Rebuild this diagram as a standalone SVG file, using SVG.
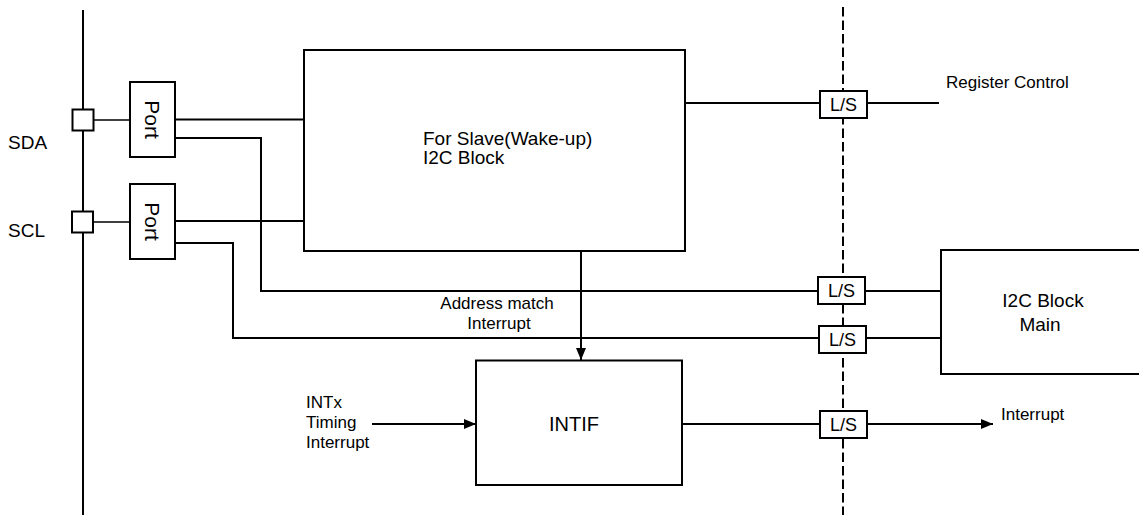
<svg xmlns="http://www.w3.org/2000/svg" width="1139" height="515" viewBox="0 0 1139 515">
<style>
.ln{fill:none;stroke:#000;stroke-width:2}
.thin{fill:none;stroke:#000;stroke-width:1.5}
.box{fill:#fff;stroke:#000;stroke-width:2}
.t{font-family:"Liberation Sans",Arial,sans-serif;fill:#000}
.s17{font-size:17px}
.s19{font-size:19px}
.s18{font-size:18px}
.mid{text-anchor:middle}
</style>
<defs>
<marker id="arr" markerUnits="userSpaceOnUse" markerWidth="12" markerHeight="10" refX="12" refY="5" orient="auto">
<path d="M0,0 L12,5 L0,10 z" fill="#000"/>
</marker>
</defs>
<rect width="1139" height="515" fill="#fff"/>

<g id="bus">
<line class="ln" x1="83" y1="10" x2="83" y2="515"/>
<line class="ln" x1="843" y1="7" x2="843" y2="515" stroke-dasharray="9.5 4"/>
</g>

<g id="connectors">
<line class="thin" x1="93" y1="120" x2="130" y2="120"/>
<line class="thin" x1="93" y1="222" x2="130" y2="222"/>
<line class="ln" x1="175" y1="119.5" x2="304" y2="119.5"/>
<line class="ln" x1="175" y1="221" x2="304" y2="221"/>
<polyline class="ln" points="175,138 261,138 261,291 941,291"/>
<polyline class="ln" points="175,243 233,243 233,338 941,338"/>
<line class="ln" x1="685" y1="103" x2="939" y2="103"/>
<line class="ln" x1="581" y1="251" x2="581" y2="360" marker-end="url(#arr)"/>
<line class="ln" x1="372" y1="424" x2="476" y2="424" marker-end="url(#arr)"/>
<line class="ln" x1="682" y1="424" x2="993" y2="424" marker-end="url(#arr)"/>
</g>

<g id="sda-pin"><rect class="box" x="72.5" y="109.5" width="21" height="21"/></g>
<g id="scl-pin"><rect class="box" x="72" y="211.5" width="21" height="21"/></g>
<g id="sda-label"><text class="t s19" x="8" y="149">SDA</text></g>
<g id="scl-label"><text class="t s19" x="8" y="237">SCL</text></g>

<g id="port1">
<rect class="box" x="130" y="82" width="45" height="75"/>
<text class="t mid" font-size="21" transform="translate(144.5,119.5) rotate(90)" x="0" y="0">Port</text>
</g>
<g id="port2">
<rect class="box" x="130" y="184" width="45" height="75"/>
<text class="t mid" font-size="21" transform="translate(144.5,221.5) rotate(90)" x="0" y="0">Port</text>
</g>

<g id="slave-block">
<rect class="box" x="304" y="50" width="381" height="201"/>
<text class="t s19" x="423" y="145">For Slave(Wake-up)</text>
<text class="t s19" x="423" y="164">I2C Block</text>
</g>

<g id="intif">
<rect class="box" x="476" y="360.5" width="206" height="124.5"/>
<text class="t mid" font-size="20" x="574" y="431">INTIF</text>
</g>

<g id="i2c-main">
<rect class="box" x="941" y="250" width="210" height="124"/>
<text class="t s19 mid" x="1043" y="307">I2C Block</text>
<text class="t s19 mid" x="1040" y="331">Main</text>
</g>

<g id="ls1"><rect class="box" x="820" y="91" width="47" height="27"/><text class="t s18 mid" x="843.5" y="111">L/S</text></g>
<g id="ls2"><rect class="box" x="818" y="277" width="47" height="27"/><text class="t s18 mid" x="841.5" y="297">L/S</text></g>
<g id="ls3"><rect class="box" x="819" y="326" width="47" height="27"/><text class="t s18 mid" x="842.5" y="346">L/S</text></g>
<g id="ls4"><rect class="box" x="820" y="411" width="47" height="27"/><text class="t s18 mid" x="843.5" y="431">L/S</text></g>

<g id="labels">
<text class="t s17" x="946" y="87.5">Register Control</text>
<text class="t s17 mid" x="497" y="309">Address match</text>
<text class="t s17 mid" x="499" y="329">Interrupt</text>
<text class="t s17" x="306" y="408">INTx</text>
<text class="t s17" x="306" y="428">Timing</text>
<text class="t s17" x="306" y="448">Interrupt</text>
<text class="t s17" x="1001" y="419.5">Interrupt</text>
</g>
</svg>
